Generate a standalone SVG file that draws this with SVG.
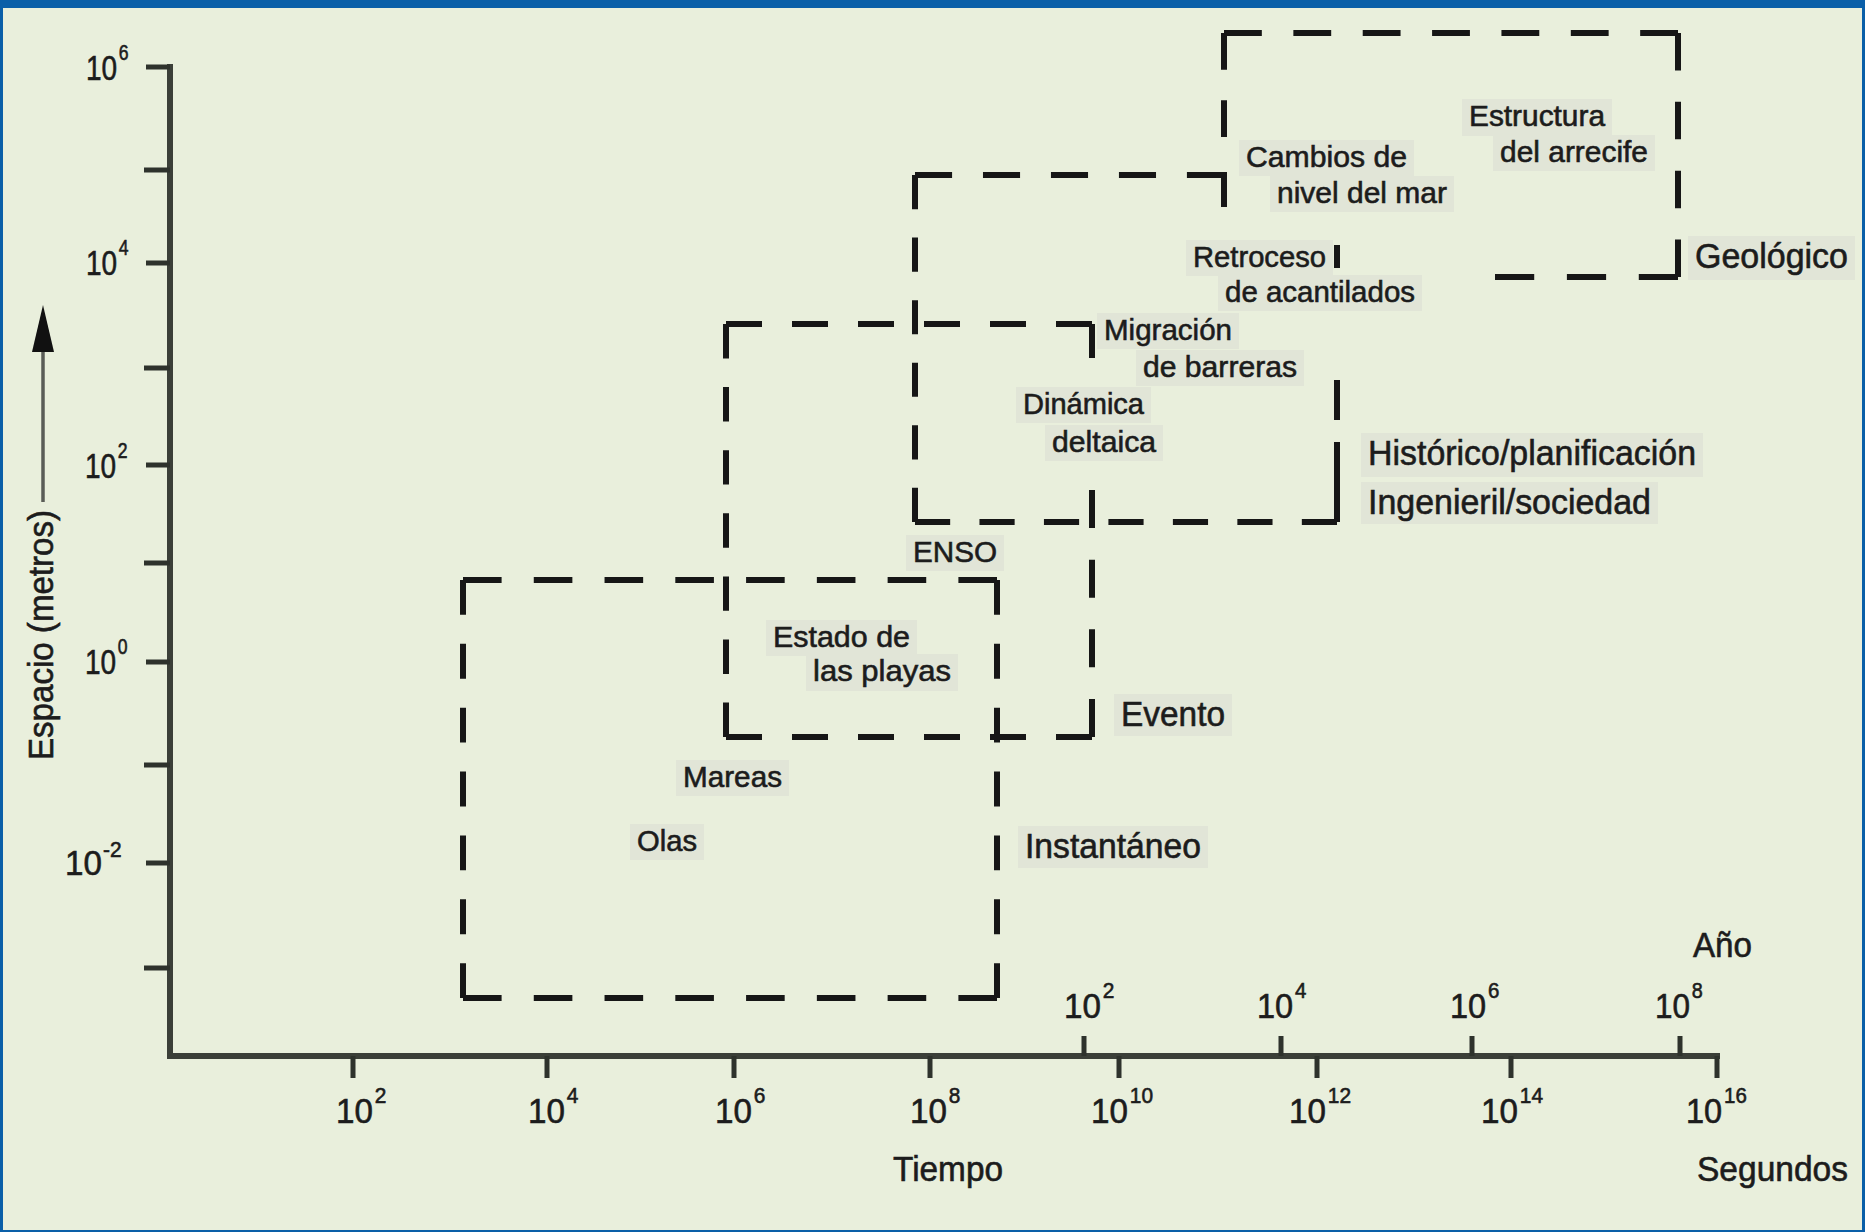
<svg xmlns="http://www.w3.org/2000/svg" width="1865" height="1232" viewBox="0 0 1865 1232">
<style>
.bg{fill:#e9efdc}
.frame{fill:#0a5fa8}
.axis{stroke:#3b3f38;stroke-width:6;fill:none;stroke-linecap:square}
.tick{stroke:#2e322c;stroke-width:5;fill:none}
.d{stroke:#161616;stroke-width:6;fill:none;stroke-dasharray:36 30}
.s{stroke:#161616;stroke-width:6;fill:none}
.halo{fill:#e1e5d7}
text{font-family:"Liberation Sans",Arial,sans-serif;fill:#1c1c1c;stroke:#1c1c1c;stroke-width:0.6}
.sm{font-size:30px}
.bg2{font-size:35px}
.num{font-size:35px}
.sup{font-size:22px}
</style>
<rect class="bg" x="0" y="0" width="1865" height="1232"/>
<rect class="frame" x="0" y="0" width="1865" height="8"/>
<rect class="frame" x="0" y="0" width="3" height="1232"/>
<rect class="frame" x="1862" y="0" width="3" height="1232"/>
<rect class="frame" x="0" y="1230" width="1865" height="2"/>

<g id="axes">
<path class="axis" d="M170 67V1056H1717"/>
<path class="tick" d="M146 67H170M144 170H170M146 263H170M144 368H170M146 465H170M144 563H170M146 662H170M144 765H170M146 863H170M144 968H170"/>
<path class="tick" d="M353 1056V1078M547 1056V1078M734 1056V1078M930 1056V1078M1119 1056V1078M1317 1056V1078M1511 1056V1078M1717 1056V1078"/>
<path class="tick" d="M1084 1056V1036M1281 1056V1036M1472 1056V1036M1680 1056V1036"/>
</g>

<g id="y-labels">
<text class="num" transform="translate(86 80) scale(0.8 1)">10<tspan class="sup" dx="2" dy="-20">6</tspan></text>
<text class="num" transform="translate(86 275) scale(0.8 1)">10<tspan class="sup" dx="2" dy="-20">4</tspan></text>
<text class="num" transform="translate(85 478) scale(0.8 1)">10<tspan class="sup" dx="2" dy="-20">2</tspan></text>
<text class="num" transform="translate(85 674) scale(0.8 1)">10<tspan class="sup" dx="2" dy="-20">0</tspan></text>
<text class="num" transform="translate(65 875) scale(0.95 1)">10<tspan class="sup" dx="1" dy="-18">-2</tspan></text>
</g>

<g id="x-labels">
<text class="num" transform="translate(336 1123) scale(0.95 1)">10<tspan class="sup" dx="2" dy="-20">2</tspan></text>
<text class="num" transform="translate(528 1123) scale(0.95 1)">10<tspan class="sup" dx="2" dy="-20">4</tspan></text>
<text class="num" transform="translate(715 1123) scale(0.95 1)">10<tspan class="sup" dx="2" dy="-20">6</tspan></text>
<text class="num" transform="translate(910 1123) scale(0.95 1)">10<tspan class="sup" dx="2" dy="-20">8</tspan></text>
<text class="num" transform="translate(1091 1123) scale(0.95 1)">10<tspan class="sup" dx="2" dy="-20">10</tspan></text>
<text class="num" transform="translate(1289 1123) scale(0.95 1)">10<tspan class="sup" dx="2" dy="-20">12</tspan></text>
<text class="num" transform="translate(1481 1123) scale(0.95 1)">10<tspan class="sup" dx="2" dy="-20">14</tspan></text>
<text class="num" transform="translate(1686 1123) scale(0.93 1)">10<tspan class="sup" dx="2" dy="-20">16</tspan></text>
<text class="num" transform="translate(1064 1018) scale(0.95 1)">10<tspan class="sup" dx="2" dy="-20">2</tspan></text>
<text class="num" transform="translate(1257 1018) scale(0.93 1)">10<tspan class="sup" dx="2" dy="-20">4</tspan></text>
<text class="num" transform="translate(1450 1018) scale(0.93 1)">10<tspan class="sup" dx="2" dy="-20">6</tspan></text>
<text class="num" transform="translate(1655 1018) scale(0.9 1)">10<tspan class="sup" dx="2" dy="-20">8</tspan></text>
</g>

<g id="axis-titles">
<path d="M43 502V352" stroke="#5a5d57" stroke-width="3.5" fill="none"/>
<path d="M43 305L32 352H54Z" fill="#111"/>
<text class="bg2" transform="translate(53 760) rotate(-90)" x="0" y="0" textLength="250" lengthAdjust="spacingAndGlyphs">Espacio (metros)</text>
<text class="bg2" x="893" y="1181" textLength="110" lengthAdjust="spacingAndGlyphs">Tiempo</text>
<text class="bg2" x="1697" y="1181" textLength="151" lengthAdjust="spacingAndGlyphs">Segundos</text>
<text class="bg2" x="1693" y="957" textLength="59" lengthAdjust="spacingAndGlyphs">Año</text>
</g>

<g id="connectors">
<path class="d" d="M463 580V998" pathLength="432"/>
<path class="d" d="M463 580H997" pathLength="498"/>
<path class="d" d="M997 580V998" pathLength="432"/>
<path class="d" d="M463 998H997" pathLength="498"/>
<path class="d" d="M726 324V737" pathLength="432"/>
<path class="d" d="M726 324H1092" pathLength="366"/>
<path class="s" d="M1092 324V358"/>
<path class="d" d="M1092 490V737" pathLength="234"/>
<path class="d" d="M726 737H1092" pathLength="366"/>
<path class="d" d="M915 175V522" pathLength="366"/>
<path class="d" d="M915 175H1224" pathLength="300"/>
<path class="s" d="M1224 172V207"/>
<path class="d" d="M915 522H1337" pathLength="432"/>
<path class="s" d="M1337 245V268M1337 380V420M1337 442V522"/>
<path class="d" d="M1224 33V137" pathLength="102"/>
<path class="d" d="M1224 33H1678" pathLength="432"/>
<path class="d" d="M1678 33V277" pathLength="234"/>
<path class="d" d="M1495 277H1678" pathLength="168"/>
</g>

<g id="node-geologico">
<rect class="halo" x="1688" y="236" width="167" height="44"/>
<text class="bg2" x="1695" y="268" textLength="153" lengthAdjust="spacingAndGlyphs">Geológico</text>
<rect class="halo" x="1462" y="99" width="150" height="37"/>
<rect class="halo" x="1493" y="135" width="162" height="36"/>
<text class="sm" x="1469" y="126" textLength="136" lengthAdjust="spacingAndGlyphs">Estructura</text>
<text class="sm" x="1500" y="162" textLength="148" lengthAdjust="spacingAndGlyphs">del arrecife</text>
<rect class="halo" x="1239" y="140" width="175" height="36"/>
<rect class="halo" x="1270" y="176" width="184" height="36"/>
<text class="sm" x="1246" y="167" textLength="161" lengthAdjust="spacingAndGlyphs">Cambios de</text>
<text class="sm" x="1277" y="203" textLength="170" lengthAdjust="spacingAndGlyphs">nivel del mar</text>
</g>

<g id="node-historico">
<rect class="halo" x="1361" y="433" width="342" height="44"/>
<rect class="halo" x="1361" y="482" width="297" height="42"/>
<text class="bg2" x="1368" y="465" textLength="328" lengthAdjust="spacingAndGlyphs">Histórico/planificación</text>
<text class="bg2" x="1368" y="514" textLength="283" lengthAdjust="spacingAndGlyphs">Ingenieril/sociedad</text>
<rect class="halo" x="1186" y="240" width="147" height="36"/>
<rect class="halo" x="1218" y="275" width="204" height="36"/>
<text class="sm" x="1193" y="267" textLength="133" lengthAdjust="spacingAndGlyphs">Retroceso</text>
<text class="sm" x="1225" y="302" textLength="190" lengthAdjust="spacingAndGlyphs">de acantilados</text>
<rect class="halo" x="1097" y="313" width="142" height="36"/>
<rect class="halo" x="1136" y="350" width="168" height="36"/>
<text class="sm" x="1104" y="340" textLength="128" lengthAdjust="spacingAndGlyphs">Migración</text>
<text class="sm" x="1143" y="377" textLength="154" lengthAdjust="spacingAndGlyphs">de barreras</text>
<rect class="halo" x="1016" y="387" width="135" height="36"/>
<rect class="halo" x="1045" y="425" width="118" height="36"/>
<text class="sm" x="1023" y="414" textLength="121" lengthAdjust="spacingAndGlyphs">Dinámica</text>
<text class="sm" x="1052" y="452" textLength="104" lengthAdjust="spacingAndGlyphs">deltaica</text>
</g>

<g id="node-evento">
<rect class="halo" x="1114" y="694" width="118" height="42"/>
<text class="bg2" x="1121" y="726" textLength="104" lengthAdjust="spacingAndGlyphs">Evento</text>
<rect class="halo" x="906" y="535" width="98" height="36"/>
<text class="sm" x="913" y="562" textLength="84" lengthAdjust="spacingAndGlyphs">ENSO</text>
<rect class="halo" x="766" y="620" width="151" height="36"/>
<rect class="halo" x="806" y="654" width="152" height="37"/>
<text class="sm" x="773" y="647" textLength="137" lengthAdjust="spacingAndGlyphs">Estado de</text>
<text class="sm" x="813" y="681" textLength="138" lengthAdjust="spacingAndGlyphs">las playas</text>
</g>

<g id="node-instantaneo">
<rect class="halo" x="1018" y="826" width="190" height="42"/>
<text class="bg2" x="1025" y="858" textLength="176" lengthAdjust="spacingAndGlyphs">Instantáneo</text>
<rect class="halo" x="676" y="760" width="113" height="36"/>
<text class="sm" x="683" y="787" textLength="99" lengthAdjust="spacingAndGlyphs">Mareas</text>
<rect class="halo" x="630" y="824" width="74" height="36"/>
<text class="sm" x="637" y="851" textLength="60" lengthAdjust="spacingAndGlyphs">Olas</text>
</g>
</svg>
